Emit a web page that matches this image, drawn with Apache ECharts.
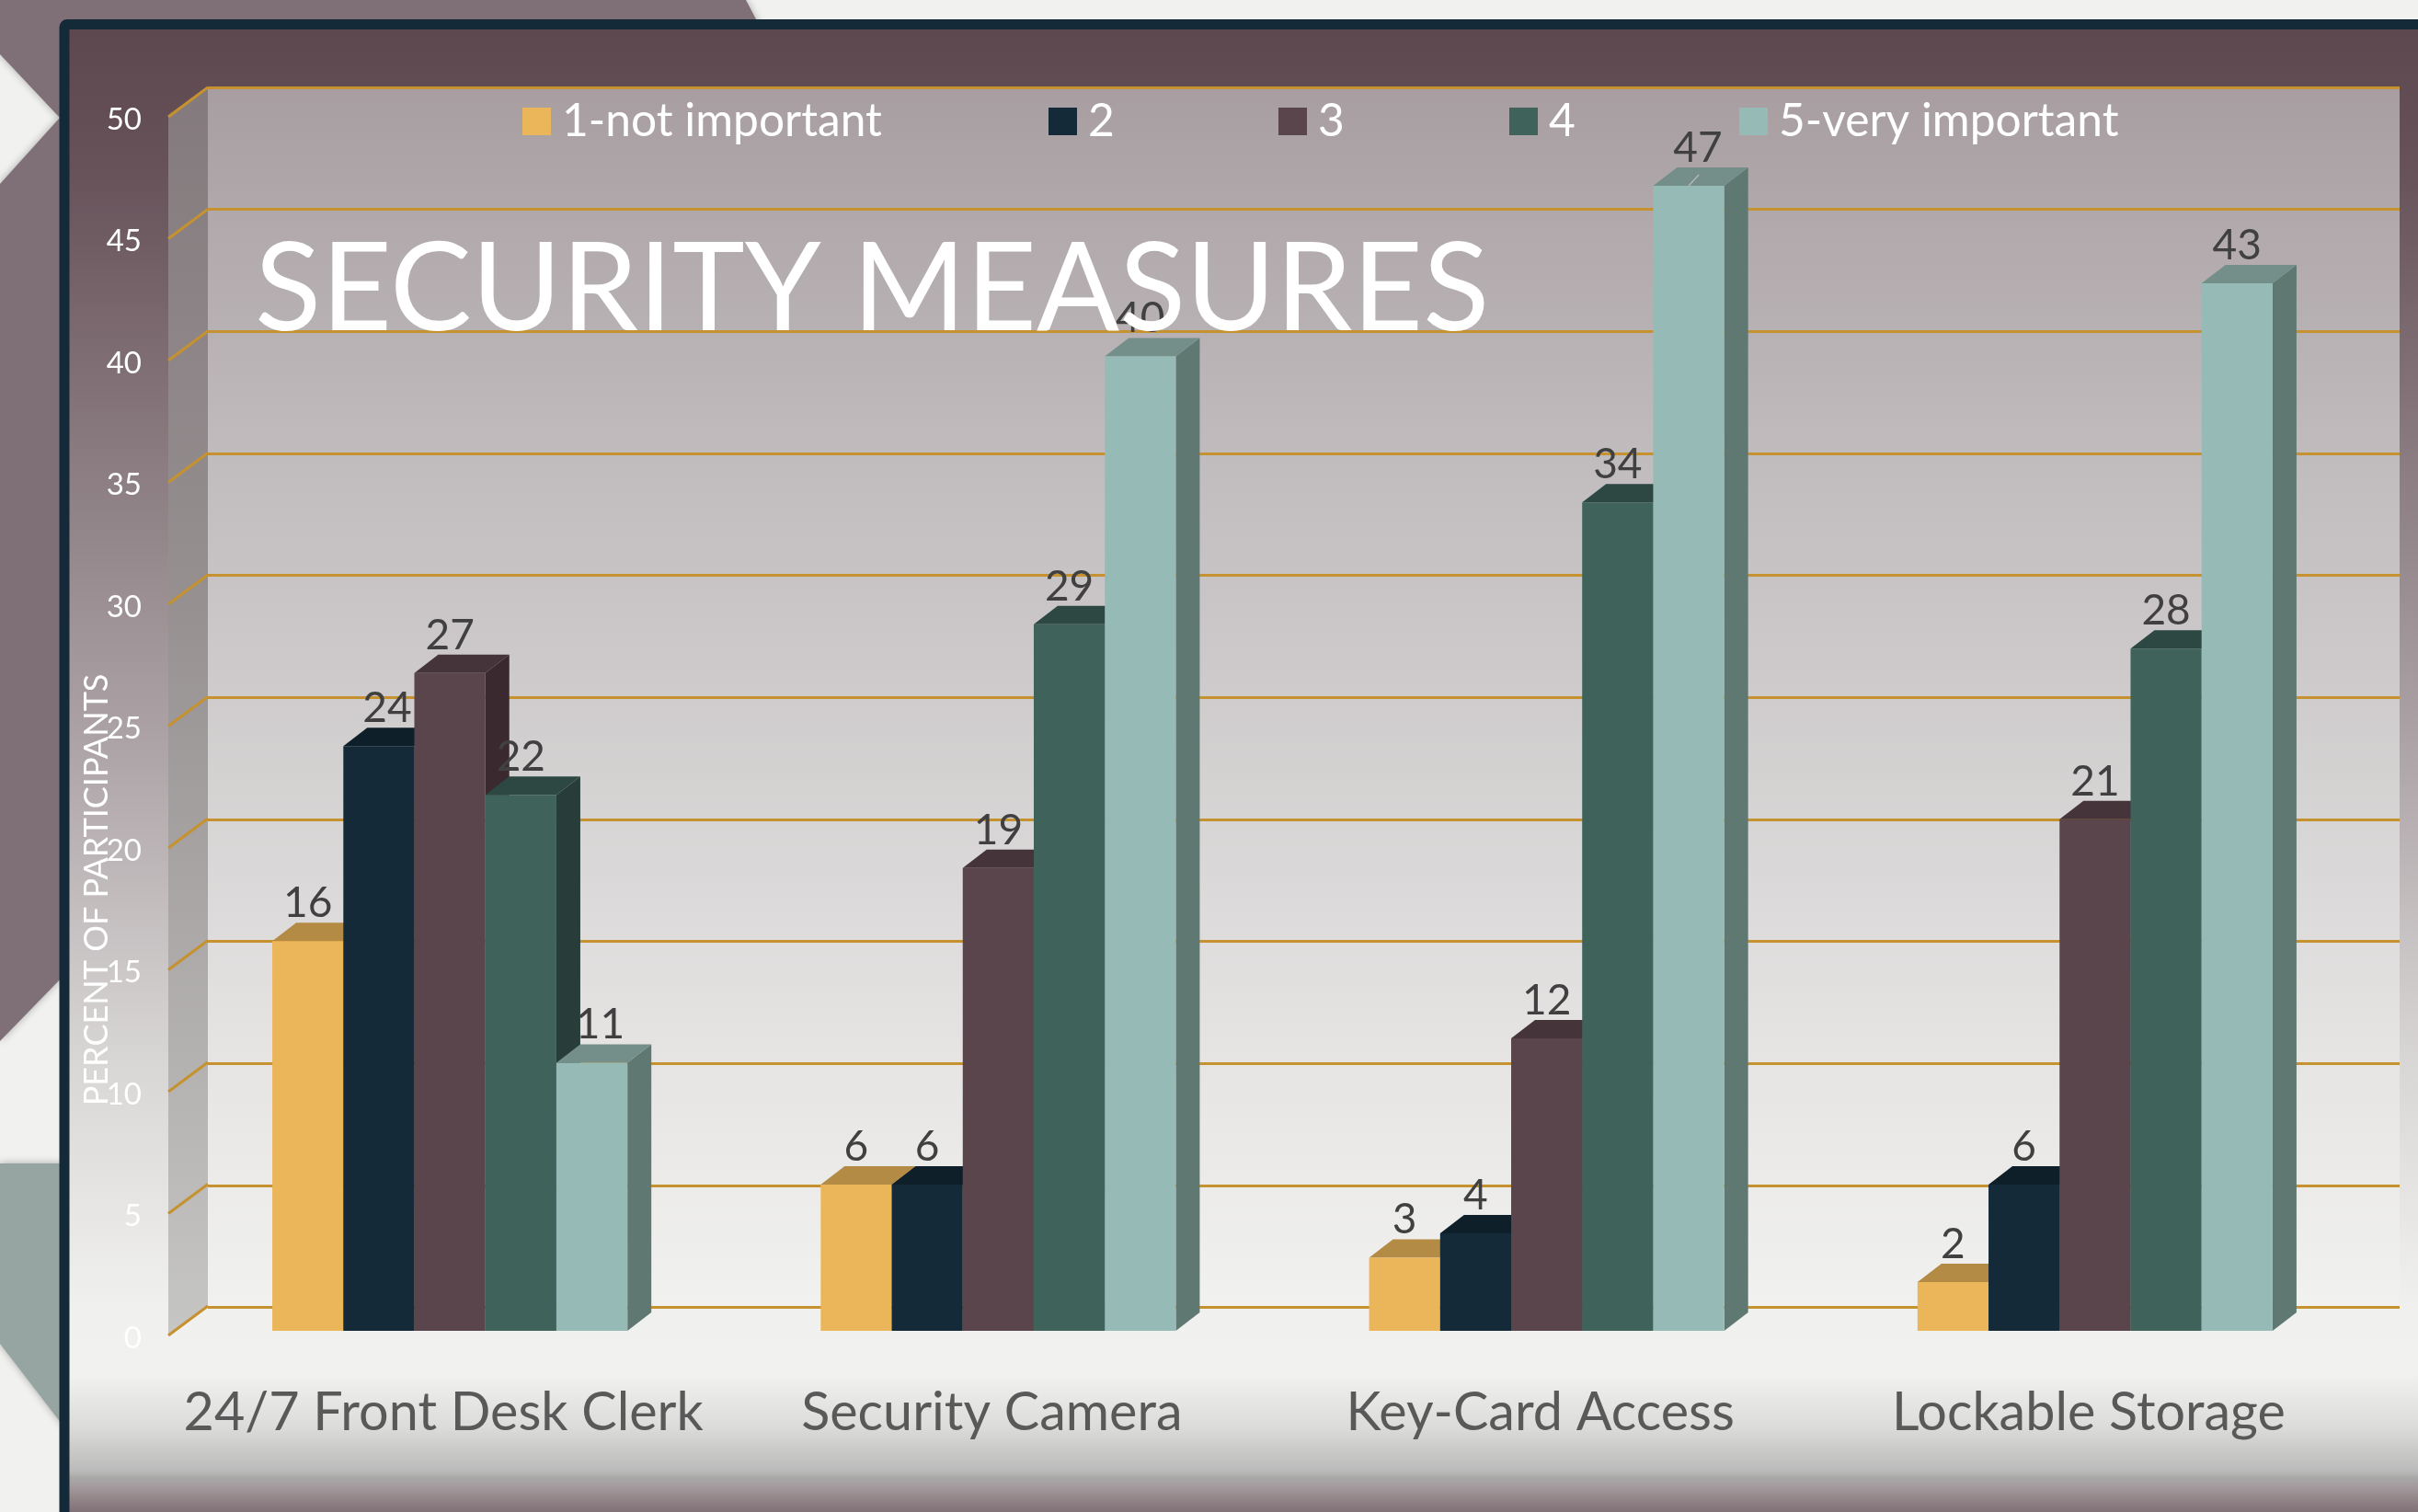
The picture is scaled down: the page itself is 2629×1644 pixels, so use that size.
<!DOCTYPE html>
<html>
<head>
<meta charset="utf-8">
<style>
  html, body { margin: 0; padding: 0; background: #f1f1ef; }
  #chart { width: 2629px; height: 1644px; }
</style>
<script src="https://cdn.jsdelivr.net/npm/echarts@6/dist/echarts.min.js"></script>
</head>
<body>
<div id="chart"></div>
<script>
const categories = ['24/7 Front Desk Clerk', 'Security Camera', 'Key-Card Access', 'Lockable Storage']
const seriesNames = ['1-not important', '2', '3', '4', '5-very important']
const notImportant = [16, 6, 3, 2]
const rating2 = [24, 6, 4, 6]
const rating3 = [27, 19, 12, 21]
const rating4 = [22, 29, 34, 28]
const veryImportant = [11, 40, 47, 43]
const seriesValues = [notImportant, rating2, rating3, rating4, veryImportant]
const yTicks = [0, 5, 10, 15, 20, 25, 30, 35, 40, 45, 50]

const frontColors = ['#ebb55a', '#152a38', '#5b454d', '#3f625b', '#96bbb7']
const topColors = ['#b48b44', '#0f1f29', '#45353b', '#2d4742', '#748f8a']
const sideColors = ['#a67f3f', '#0c1921', '#3a2a30', '#283d39', '#5f7872']
const legendLefts = [568, 1140, 1390, 1641, 1891]

const FONT = 'Lato'
const GOLD = '#c5922f'
// box depth of the 3d bars and of the side wall, in px
const BAR_DX = 26
const BAR_DY = 20
const WALL_DX = 43
const WALL_DY = 32
// the side grid sits a bit low so its tick labels land right; wall shapes undo it
const WALL_DROP = 3
// data labels that were left nudged to the right: series index -> category index
const labelNudge = { 1: { 0: 9 }, 4: { 0: 9, 2: 10 } }

const wallBack = { left: 226, right: 20, top: 95, height: 1326.5 }
const wallSide = { left: 183, width: 43, top: 127 + WALL_DROP, height: 1325 }
const barPlane = { left: 191, right: 53, top: 122.5, height: 1324.5 }

function renderBar(seriesIndex) {
  return (params, api) => {
    const band = api.size([1, 0])[0]
    const w = band * 0.1295
    const center = api.coord([api.value(0), 0])[0] + (seriesIndex - 2) * w
    const x0 = center - w / 2
    const x1 = center + w / 2
    const y0 = api.coord([api.value(0), 0])[1]
    const y1 = api.coord([api.value(0), api.value(1)])[1]
    const nudge = (labelNudge[seriesIndex] || {})[params.dataIndex] || 0
    const children = [
      {
        type: 'polygon',
        shape: { points: [[x1, y0], [x1 + BAR_DX, y0 - BAR_DY], [x1 + BAR_DX, y1 - BAR_DY], [x1, y1]] },
        style: { fill: sideColors[seriesIndex] },
      },
      {
        type: 'polygon',
        shape: { points: [[x0, y1], [x0 + BAR_DX, y1 - BAR_DY], [x1 + BAR_DX, y1 - BAR_DY], [x1, y1]] },
        style: { fill: topColors[seriesIndex] },
      },
      {
        type: 'rect',
        shape: { x: x0, y: y1, width: w, height: y0 - y1 },
        style: { fill: frontColors[seriesIndex] },
      },
      {
        type: 'text',
        z2: 100,
        style: {
          text: String(api.value(1)),
          x: center + nudge,
          y: y1 - BAR_DY + 2,
          align: 'center',
          verticalAlign: 'bottom',
          fill: '#404040',
          font: `46px ${FONT}`,
        },
      },
    ]
    // the 47 label keeps its little leader line on the bar top
    if (seriesIndex === 4 && params.dataIndex === 2) {
      children.push({
        type: 'line',
        z2: 90,
        shape: { x1: center, y1: y1, x2: center + 11, y2: y1 - 12 },
        style: { stroke: '#b5b5b5', lineWidth: 1.5 },
      })
    }
    return { type: 'group', children }
  }
}

// slanted ticks from the front corner to the back wall
function renderWallTick(params, api) {
  const front = api.coord([0, api.value(1)])
  const y = front[1] - WALL_DROP
  return {
    type: 'line',
    shape: { x1: front[0], y1: y, x2: front[0] + WALL_DX, y2: y - WALL_DY },
    style: { stroke: GOLD, lineWidth: 3 },
  }
}

// shaded side wall, stretched between the first and last tick
function renderSideWall(params, api) {
  const f0 = api.coord([0, yTicks[0]])
  const f1 = api.coord([0, yTicks[yTicks.length - 1]])
  const y0 = f0[1] - WALL_DROP
  const y1 = f1[1] - WALL_DROP
  return {
    type: 'polygon',
    shape: { points: [[f0[0], y0], [f0[0] + WALL_DX, y0 - WALL_DY], [f1[0] + WALL_DX, y1 - WALL_DY], [f1[0], y1]] },
    style: {
      fill: new echarts.graphic.LinearGradient(0, 0, 0, 1, [
        { offset: 0, color: '#847a7d' }, { offset: 0.4, color: '#958f90' }, { offset: 1, color: '#c6c6c4' },
      ]),
    },
  }
}

const chart = echarts.init(document.getElementById('chart'))

const panelStops = [
  [0, '#5c474f'], [0.1, '#67525a'], [0.3, '#8b7d81'], [0.5, '#b0a7aa'], [0.7, '#d9d7d6'],
  [0.86, '#f0f0ee'], [0.905, '#f1f1ef'], [0.94, '#dcdcda'], [0.97, '#bababa'], [0.974, '#a9a9a8'],
  [0.98, '#a59b9e'], [0.99, '#8f8185'], [1, '#7b6b71'],
]

chart.setOption({
  animation: false,
  backgroundColor: '#f1f1ef',
  graphic: [
    // decorative shapes behind the panel
    {
      type: 'polygon', z: -10, silent: true,
      shape: { points: [[0, 0], [811, 0], [832, 40], [70, 40], [70, 1060], [0, 1132], [0, 200], [65, 128], [0, 59]] },
      style: { fill: '#7f7077', shadowBlur: 8, shadowColor: 'rgba(0,0,0,0.3)' },
    },
    {
      type: 'polygon', z: -10, silent: true,
      shape: { points: [[0, 1265], [70, 1265], [70, 1552], [0, 1461]] },
      style: { fill: '#97a5a2', shadowBlur: 8, shadowColor: 'rgba(0,0,0,0.3)' },
    },
    // framed panel
    {
      type: 'rect', z: -9, silent: true,
      shape: { x: 70, y: 26.5, width: 2600, height: 1700, r: 3 },
      style: {
        fill: new echarts.graphic.LinearGradient(0, 0, 0, 1,
          panelStops.map(([offset, color]) => ({ offset: offset * 1617 / 1700, color }))
            .concat([{ offset: 1, color: '#7b6b71' }])),
        stroke: '#152a38',
        lineWidth: 11,
      },
    },
  ],
  title: {
    text: 'SECURITY MEASURES',
    left: 272,
    top: 245,
    z: 50,
    textStyle: { color: '#ffffff', fontFamily: FONT, fontWeight: 'normal', fontSize: 133 },
  },
  legend: seriesNames.map((name, i) => ({
    data: [name],
    left: legendLefts[i],
    top: 107,
    icon: 'rect',
    itemWidth: 31,
    itemHeight: 30,
    itemGap: 0,
    padding: 0,
    textStyle: { color: '#ffffff', fontFamily: FONT, fontSize: 49.7, padding: [0, 0, 0, 7] },
  })),
  grid: [
    { ...wallBack, show: true, borderWidth: 0, backgroundColor: new echarts.graphic.LinearGradient(0, 0, 0, 1, [
      { offset: 0, color: '#a89ea1' }, { offset: 0.3, color: '#c0bbbd' },
      { offset: 0.8, color: '#e6e5e4' }, { offset: 1, color: '#f1f1ef' },
    ]) },
    { ...wallSide },
    { ...barPlane },
  ],
  xAxis: [
    { gridIndex: 0, type: 'category', show: false, data: categories },
    { gridIndex: 1, type: 'value', show: false, min: 0, max: 1 },
    {
      gridIndex: 2,
      type: 'category',
      data: categories,
      axisLine: { show: false },
      axisTick: { show: false },
      axisLabel: { interval: 0, margin: 60, color: '#595959', fontFamily: FONT, fontSize: 57.5, padding: [0, 14, 0, 0] },
    },
  ],
  yAxis: [
    {
      gridIndex: 0, type: 'value', min: 0, max: 50, interval: 5,
      axisLine: { show: false }, axisTick: { show: false }, axisLabel: { show: false },
      splitLine: { show: true, lineStyle: { color: GOLD, width: 3 } },
    },
    {
      gridIndex: 1, type: 'value', min: 0, max: 50, interval: 5,
      name: 'PERCENT OF PARTICIPANTS',
      nameLocation: 'middle',
      nameRotate: 90,
      nameGap: 60,
      nameMoveOverlap: false,
      nameTextStyle: { color: '#ffffff', fontFamily: FONT, fontSize: 36, padding: [0, 350, 0, 0] },
      axisLine: { show: false }, axisTick: { show: false },
      axisLabel: { color: '#ffffff', fontFamily: FONT, fontSize: 33, margin: 29 },
      splitLine: { show: false },
    },
    {
      gridIndex: 2, type: 'value', min: 0, max: 50, interval: 5,
      axisLine: { show: false }, axisTick: { show: false }, axisLabel: { show: false }, splitLine: { show: false },
    },
  ],
  series: [
    {
      name: 'side wall',
      type: 'custom',
      xAxisIndex: 1,
      yAxisIndex: 1,
      silent: true,
      renderItem: renderSideWall,
      data: [[0, 0]],
      z: 1,
    },
    {
      name: 'wall ticks',
      type: 'custom',
      xAxisIndex: 1,
      yAxisIndex: 1,
      silent: true,
      renderItem: renderWallTick,
      data: yTicks.map(v => [0, v]),
      z: 1,
    },
    ...seriesNames.map((name, i) => ({
      name,
      type: 'custom',
      xAxisIndex: 2,
      yAxisIndex: 2,
      itemStyle: { color: frontColors[i] },
      renderItem: renderBar(i),
      encode: { x: 0, y: 1 },
      data: seriesValues[i].map((v, c) => [c, v]),
      z: 2,
    })),
  ],
})
</script>
</body>
</html>
